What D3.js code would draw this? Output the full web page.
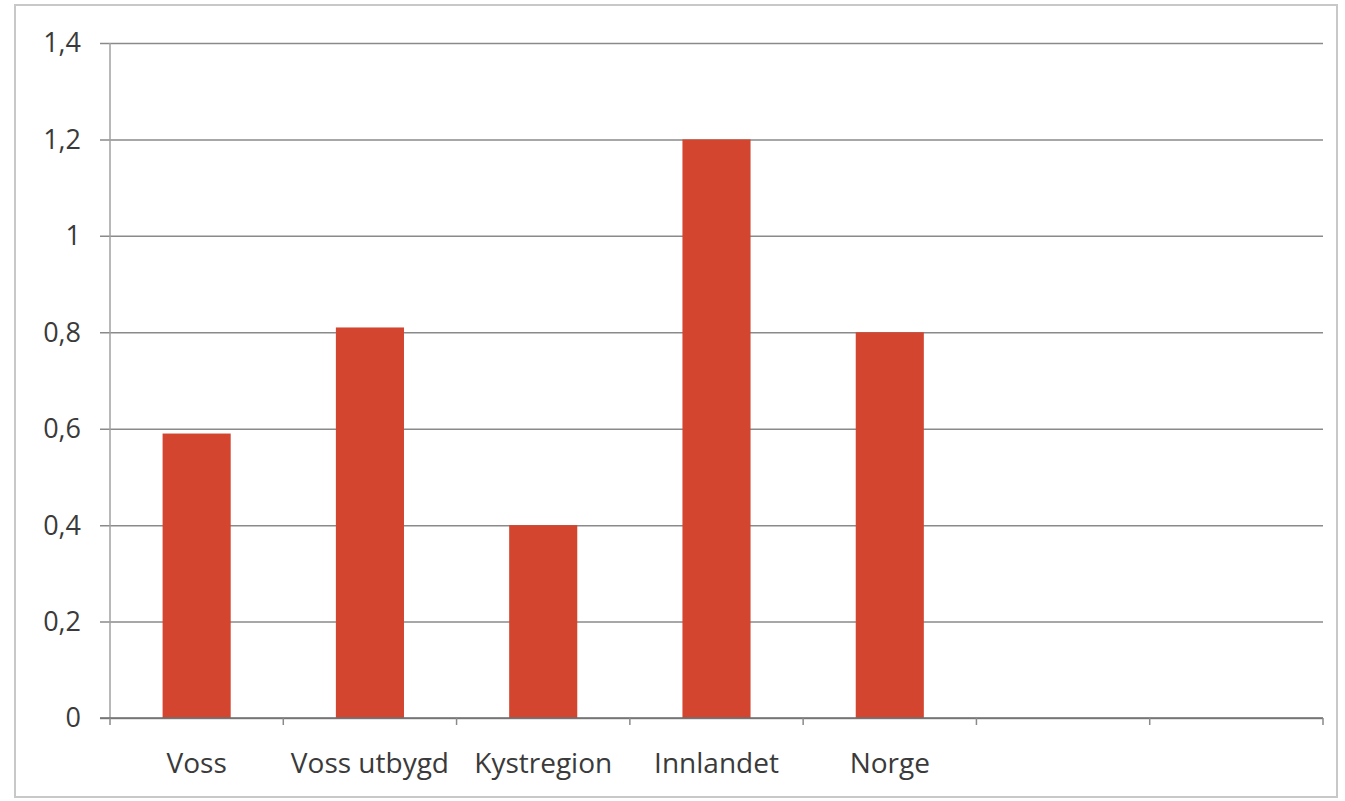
<!DOCTYPE html>
<html>
<head>
<meta charset="utf-8">
<script src="https://cdn.jsdelivr.net/npm/d3@7"></script>
<style>
  body { margin: 0; background: #fff; }
  #chart { font-family: "Open Sans", "Noto Sans", sans-serif; }
  .grid line { stroke: #8a8a8a; stroke-width: 1.5; }
  .grid path { stroke: none; }
</style>
</head>
<body>
<svg id="chart" width="1345" height="801"></svg>
<script>
// categories (last two slots are empty in the original)
const categories = ['Voss', 'Voss utbygd', 'Kystregion', 'Innlandet', 'Norge', '', ' '];
const values = [0.59, 0.81, 0.40, 1.20, 0.80, null, null];
const yTicks = [0, 0.2, 0.4, 0.6, 0.8, 1, 1.2, 1.4];

const svg = d3.select('#chart');
const plotLeft = 110, plotRight = 1323, plotTop = 43, plotBottom = 718;

// outer frame
svg.append('rect')
    .attr('x', 15).attr('y', 5)
    .attr('width', 1322).attr('height', 792)
    .attr('fill', 'none')
    .attr('stroke', '#c8c8c8')
    .attr('stroke-width', 2);

const yScale = d3.scaleLinear()
    .domain([0, 1.4])
    .range([plotBottom, plotTop]);

const slots = d3.scaleBand()
    .domain(categories)
    .range([plotLeft, plotRight]);

const xScale = d3.scaleBand()
    .domain(categories)
    .range([plotLeft, plotRight])
    .paddingInner(0.607)
    .paddingOuter(0.3035);

const fmt = d => d3.format('.1~f')(d).replace('.', ',');

// horizontal gridlines
const grid = svg.append('g')
    .attr('class', 'grid')
    .attr('transform', `translate(${plotLeft},0)`)
    .call(d3.axisLeft(yScale)
        .tickValues(yTicks)
        .tickSize(-(plotRight - plotLeft))
        .tickFormat(''));
grid.selectAll('.tick line').attr('x1', -10).attr('x2', plotRight - plotLeft);

// y tick labels
svg.append('g').selectAll('text')
    .data(yTicks)
    .enter()
    .append('text')
    .attr('x', 81)
    .attr('y', d => yScale(d))
    .attr('dy', '0.35em')
    .attr('text-anchor', 'end')
    .attr('font-size', 27)
    .attr('fill', '#3a3a3a')
    .text(fmt);

// y axis line
svg.append('line')
    .attr('x1', plotLeft).attr('x2', plotLeft)
    .attr('y1', plotTop).attr('y2', plotBottom)
    .attr('stroke', '#a0a0a0')
    .attr('stroke-width', 1.5);

// bars
svg.append('g').selectAll('rect')
    .data(categories.map((c, i) => ({ c: c, v: values[i] })).filter(d => d.v != null))
    .enter()
    .append('rect')
    .attr('x', d => xScale(d.c))
    .attr('y', d => yScale(d.v))
    .attr('width', xScale.bandwidth())
    .attr('height', d => plotBottom - yScale(d.v))
    .attr('fill', '#d3452f');

// x axis line and boundary ticks
svg.append('line')
    .attr('x1', plotLeft - 10).attr('x2', plotRight)
    .attr('y1', plotBottom).attr('y2', plotBottom)
    .attr('stroke', '#6e6e6e')
    .attr('stroke-width', 1.5);

const bounds = categories.map(c => slots(c)).concat([plotRight]);
svg.append('g').selectAll('line')
    .data(bounds)
    .enter()
    .append('line')
    .attr('x1', d => d).attr('x2', d => d)
    .attr('y1', plotBottom).attr('y2', plotBottom + 7)
    .attr('stroke', '#8a8a8a')
    .attr('stroke-width', 1.5);

// category labels
svg.append('g').selectAll('text')
    .data(categories)
    .enter()
    .append('text')
    .attr('x', d => slots(d) + slots.bandwidth() / 2)
    .attr('y', 773)
    .attr('text-anchor', 'middle')
    .attr('font-size', 28)
    .attr('fill', '#3a3a3a')
    .text(d => d.trim());
</script>
</body>
</html>
